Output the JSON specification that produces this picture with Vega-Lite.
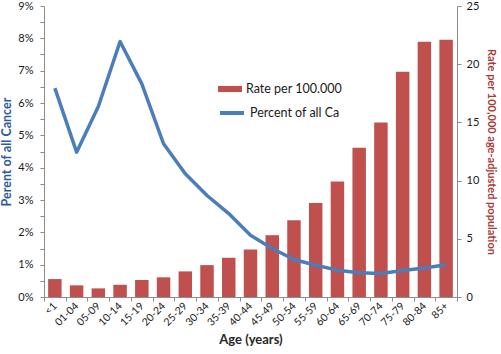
{
  "$schema": "https://vega.github.io/schema/vega-lite/v6.json",
  "width": 413,
  "height": 291,
  "autosize": {"type": "none"},
  "padding": {"left": 44, "top": 6, "right": 44, "bottom": 57},
  "background": "white",
  "config": {
    "view": {"stroke": null},
    "font": "Lato",
    "axis": {
      "grid": false,
      "domainColor": "#8C8C8C",
      "tickColor": "#8C8C8C",
      "labelColor": "#1A1A1A",
      "labelFont": "Lato",
      "titleFont": "Lato",
      "titleFontWeight": "bold"
    },
    "legend": {"labelFont": "Lato", "labelColor": "#1A1A1A"}
  },
  "data": {
    "values": [
      {"age": "<1", "rate": 1.54, "pct": 0.0646},
      {"age": "01-04", "rate": 1.0, "pct": 0.0448},
      {"age": "05-09", "rate": 0.74, "pct": 0.0589},
      {"age": "10-14", "rate": 1.05, "pct": 0.079},
      {"age": "15-19", "rate": 1.46, "pct": 0.0659},
      {"age": "20-24", "rate": 1.69, "pct": 0.0474},
      {"age": "25-29", "rate": 2.2, "pct": 0.0381},
      {"age": "30-34", "rate": 2.74, "pct": 0.0314},
      {"age": "35-39", "rate": 3.37, "pct": 0.0258},
      {"age": "40-44", "rate": 4.08, "pct": 0.0191},
      {"age": "45-49", "rate": 5.31, "pct": 0.015},
      {"age": "50-54", "rate": 6.59, "pct": 0.0116},
      {"age": "55-59", "rate": 8.07, "pct": 0.0098},
      {"age": "60-64", "rate": 9.93, "pct": 0.0083},
      {"age": "65-69", "rate": 12.82, "pct": 0.0075},
      {"age": "70-74", "rate": 15.0, "pct": 0.0073},
      {"age": "75-79", "rate": 19.35, "pct": 0.0082},
      {"age": "80-84", "rate": 21.92, "pct": 0.009},
      {"age": "85+", "rate": 22.09, "pct": 0.01}
    ]
  },
  "encoding": {
    "x": {
      "field": "age",
      "type": "nominal",
      "sort": null,
      "scale": {"paddingInner": 0, "paddingOuter": 0},
      "axis": {
        "title": "Age (years)",
        "titleFontSize": 13,
        "titleColor": "#262626",
        "titlePadding": 6,
        "labelAngle": -45,
        "labelAlign": "right",
        "labelBaseline": "middle",
        "labelFontSize": 10.5,
        "labelPadding": 3,
        "tickBand": "extent",
        "tickSize": 4
      }
    }
  },
  "layer": [
    {
      "mark": {"type": "bar", "width": {"band": 0.62}},
      "encoding": {
        "y": {
          "field": "rate",
          "type": "quantitative",
          "scale": {"domain": [0, 25]},
          "axis": {
            "orient": "right",
            "values": [0, 5, 10, 15, 20, 25],
            "title": "Rate per 100,000 age-adjusted population",
            "titleFont": "Liberation Sans Narrow, Lato",
            "titleColor": "#A93A37",
            "titleFontSize": 11,
            "titlePadding": 7,
            "labelFontSize": 11,
            "labelPadding": 5,
            "tickSize": 4
          }
        },
        "fill": {
          "datum": "Rate per 100.000",
          "type": "nominal",
          "scale": {"range": ["#C0504D"]},
          "legend": {
            "title": null,
            "orient": "none",
            "legendX": 174,
            "legendY": 71,
            "padding": 0,
            "symbolType": "M-1,-0.25H1V0.25H-1Z",
            "symbolSize": 576,
            "symbolStrokeWidth": 0,
            "labelFontSize": 12.5,
            "labelOffset": 4
          }
        }
      }
    },
    {
      "mark": {"type": "line", "strokeWidth": 3.5, "strokeJoin": "round"},
      "encoding": {
        "y": {
          "field": "pct",
          "type": "quantitative",
          "scale": {"domain": [0, 0.09]},
          "axis": {
            "orient": "left",
            "values": [0, 0.005, 0.01, 0.015, 0.02, 0.025, 0.03, 0.035, 0.04, 0.045, 0.05, 0.055, 0.06, 0.065, 0.07, 0.075, 0.08, 0.085, 0.09],
            "format": ".0%",
            "labelExpr": "(round(datum.value*1000) % 10 == 0) ? datum.label : ''",
            "title": "Perent of all Cancer",
            "titleFont": "Liberation Sans Narrow, Lato",
            "titleColor": "#2E5B9B",
            "titleFontSize": 12.5,
            "titlePadding": 4,
            "labelFontSize": 11,
            "labelPadding": 7,
            "tickSize": 4
          }
        },
        "stroke": {
          "datum": "Percent of all Ca",
          "type": "nominal",
          "scale": {"range": ["#4A7EBB"]},
          "legend": {
            "title": null,
            "orient": "none",
            "legendX": 174,
            "legendY": 93,
            "padding": 0,
            "symbolType": "stroke",
            "symbolSize": 576,
            "symbolStrokeWidth": 4,
            "labelFontSize": 12.5,
            "labelOffset": 4
          }
        }
      }
    }
  ],
  "resolve": {"scale": {"y": "independent"}}
}
